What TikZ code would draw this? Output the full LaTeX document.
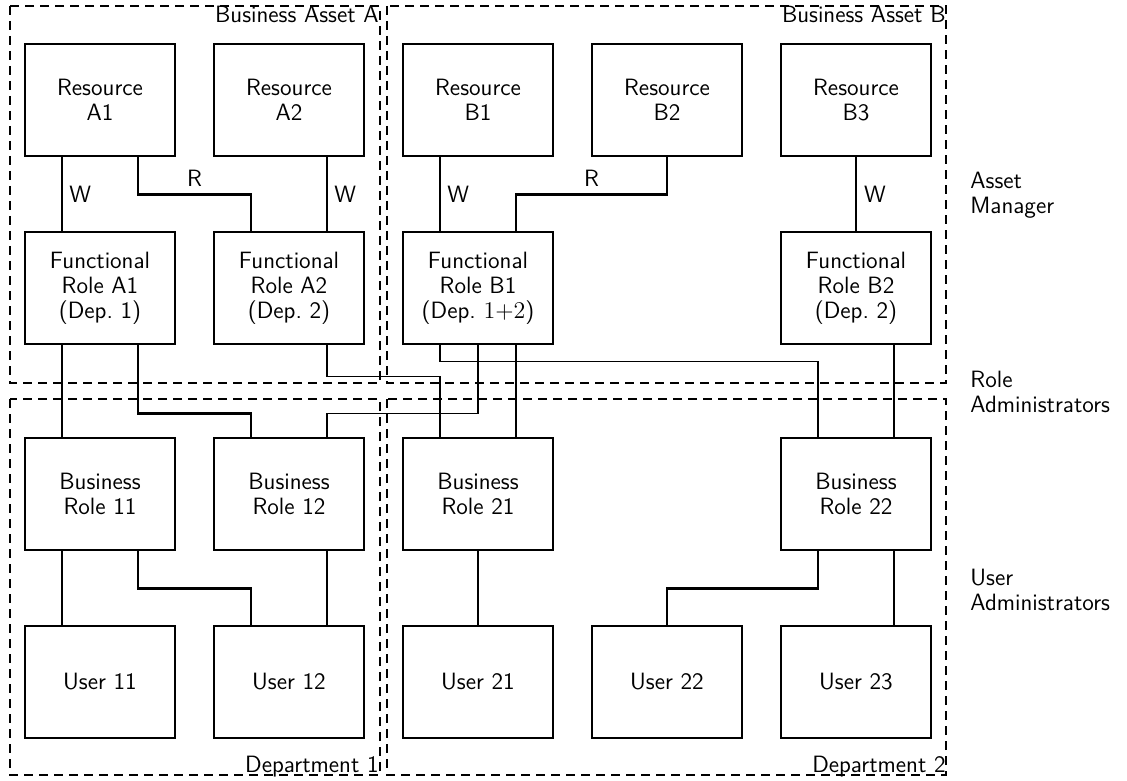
\documentclass[tikz,border=0pt]{standalone}
\usepackage{tikz}

\begin{document}
\begin{tikzpicture}[x=0.5pt,y=-0.5pt,
  every node/.style={font=\fontsize{11.8}{12.4}\selectfont\sffamily},
  box/.style={draw, line width=1.4pt, minimum width=75pt, minimum height=56pt,
    align=center, inner sep=0pt},
  thinline/.style={line width=0.8pt},
  thickline/.style={line width=1.4pt},
  zone/.style={line width=1.3pt, dash pattern=on 4.5pt off 3pt}]

% Parameters
\def\colZero{100}
\def\colStep{189}
\def\rowRes{100}
\def\rowFun{288}
\def\rowBus{494}
\def\rowUser{682}
\def\q{19pt}

\useasboundingbox (0,0) rectangle (1127,780);

% Zones
\draw[zone] (10,6) rectangle (380,383);
\draw[zone] (387,6) rectangle (946,383);
\draw[zone] (10,399) rectangle (380,775);
\draw[zone] (387,399) rectangle (946,775);
\node[anchor=north east, inner sep=0pt] (assetA) at (379,6) {Business Asset A};
\node[anchor=north east, inner sep=0pt] (assetB) at (946,6) {Business Asset B};
\node[anchor=base east, inner sep=0pt] (depOne) at (379,772) {Department 1};
\node[anchor=base east, inner sep=0pt] (depTwo) at (946,772) {Department 2};

% Resources
\foreach \name/\col in {A1/0,A2/1,B1/2,B2/3,B3/4} {
  \node[box] (res\name) at ({\colZero+\col*\colStep},\rowRes) {Resource\\\name};
}

% Functional roles
\node[box] (funA1) at ({\colZero+0*\colStep},\rowFun) {Functional\\Role A1\\(Dep.~1)};
\node[box] (funA2) at ({\colZero+1*\colStep},\rowFun) {Functional\\Role A2\\(Dep.~2)};
\node[box] (funB1) at ({\colZero+2*\colStep},\rowFun) {Functional\\Role B1\\(Dep.~$1{+}2$)};
\node[box] (funB2) at ({\colZero+4*\colStep},\rowFun) {Functional\\Role B2\\(Dep.~2)};

% Business roles
\node[box] (bus11) at ({\colZero+0*\colStep},\rowBus) {Business\\Role 11};
\node[box] (bus12) at ({\colZero+1*\colStep},\rowBus) {Business\\Role 12};
\node[box] (bus21) at ({\colZero+2*\colStep},\rowBus) {Business\\Role 21};
\node[box] (bus22) at ({\colZero+4*\colStep},\rowBus) {Business\\Role 22};

% Users
\foreach \name/\col in {11/0,12/1,21/2,22/3,23/4} {
  \node[box] (user\name) at ({\colZero+\col*\colStep},\rowUser) {User \name};
}

% Resource -- functional role
\draw[thinline] ([xshift=-\q]resA1.south) -- ([xshift=-\q]funA1.north) node[midway,right] {W};
\draw[thickline] ([xshift=\q]resA1.south) -- ++(0,37) -| ([xshift=-\q]funA2.north) node[pos=0.25,above] {R};
\draw[thinline] ([xshift=\q]resA2.south) -- ([xshift=\q]funA2.north) node[midway,right] {W};
\draw[thinline] ([xshift=-\q]resB1.south) -- ([xshift=-\q]funB1.north) node[midway,right] {W};
\draw[thickline] (resB2.south) -- ++(0,37) -| ([xshift=\q]funB1.north) node[pos=0.25,above] {R};
\draw[thickline] (resB3.south) -- (funB2.north) node[midway,right] {W};

% Functional role -- business role
\draw[thinline] ([xshift=-\q]funA1.south) -- ([xshift=-\q]bus11.north);
\draw[thickline] ([xshift=\q]funA1.south) -- ++(0,68) -| ([xshift=-\q]bus12.north);
\draw[thinline] ([xshift=\q]funA2.south) -- ++(0,31) -| ([xshift=-\q]bus21.north);
\draw[thinline] ([xshift=-\q]funB1.south) -- ++(0,16) -| ([xshift=-\q]bus22.north);
\draw[thinline] (funB1.south) -- ++(0,68) -| ([xshift=\q]bus12.north);
\draw[thickline] ([xshift=\q]funB1.south) -- ([xshift=\q]bus21.north);
\draw[thickline] ([xshift=\q]funB2.south) -- ([xshift=\q]bus22.north);

% Business role -- user
\draw[thinline] ([xshift=-\q]bus11.south) -- ([xshift=-\q]user11.north);
\draw[thickline] ([xshift=\q]bus11.south) -- ++(0,37) -| ([xshift=-\q]user12.north);
\draw[thinline] ([xshift=\q]bus12.south) -- ([xshift=\q]user12.north);
\draw[thinline] (bus21.south) -- (user21.north);
\draw[thickline] ([xshift=-\q]bus22.south) -- ++(0,37) -| (user22.north);
\draw[thickline] ([xshift=\q]bus22.south) -- ([xshift=\q]user23.north);

% Administrators
\node[anchor=west, align=left, inner sep=0pt] (assetMgr) at (970,195) {Asset\\Manager};
\node[anchor=west, align=left, inner sep=0pt] (roleAdm) at (970,392) {Role\\Administrators};
\node[anchor=west, align=left, inner sep=0pt] (userAdm) at (970,590) {User\\Administrators};
\end{tikzpicture}
\end{document}
